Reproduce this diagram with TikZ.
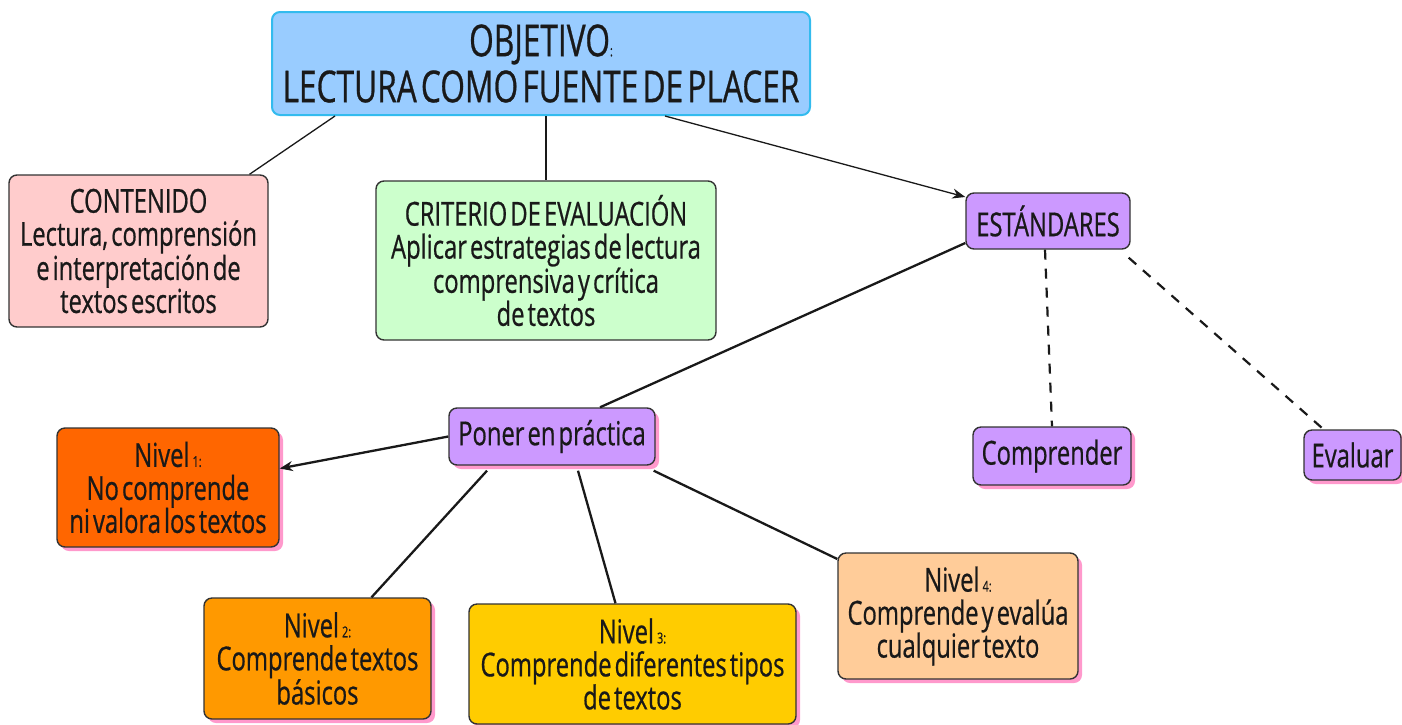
\documentclass[tikz,border=0pt]{standalone}
\usepackage{fontspec}
\setmainfont{Open Sans}[FakeStretch=0.72, WordSpace=0.5, FakeBold=0.6]
\usetikzlibrary{shadows,arrows.meta}
\definecolor{objfill}{HTML}{99CCFF}
\definecolor{objline}{HTML}{33BBEE}
\definecolor{contfill}{HTML}{FFCCCC}
\definecolor{critfill}{HTML}{CCFFCC}
\definecolor{purp}{HTML}{CC99FF}
\definecolor{n1fill}{HTML}{FF6600}
\definecolor{n2fill}{HTML}{FF9900}
\definecolor{n3fill}{HTML}{FFCC00}
\definecolor{n4fill}{HTML}{FFCC99}
\definecolor{shpink}{HTML}{FF99CC}
\definecolor{bord}{HTML}{333333}
\newcommand{\smlab}[1]{{\fontsize{15}{15}\selectfont #1}}
\tikzset{
  box/.style={draw=bord, line width=1.4pt, rounded corners=8pt, align=center, inner sep=0pt,
    font=\fontsize{33}{33}\selectfont, text=black!90},
  shbox/.style={box, drop shadow={shadow xshift=4pt, shadow yshift=-4pt, fill=shpink, opacity=1}},
  conn/.style={draw=black!90, line width=1.3pt},
  thick conn/.style={draw=black!90, line width=2.3pt},
  arr/.style={-{Stealth[length=13pt,width=10pt]}},
  dash conn/.style={draw=black!90, line width=2.2pt, dash pattern=on 10pt off 9pt}
}
\begin{document}
\begin{tikzpicture}[x=1pt,y=-1pt]
\useasboundingbox (0,0) rectangle (1402,724);
% nodes
\node[box, draw=objline, line width=2pt, fill=objfill, minimum width=538pt, minimum height=103pt,
  font=\fontsize{44}{46}\selectfont] (obj) at (541,63.5) {OBJETIVO\smlab{:}\\LECTURA COMO FUENTE DE PLACER};
\node[box, fill=contfill, minimum width=259pt, minimum height=152pt] (cont) at (138.5,251)
  {CONTENIDO\\Lectura, comprensión\\e interpretación de\\textos escritos};
\node[box, fill=critfill, minimum width=340pt, minimum height=159pt] (crit) at (546,260.5)
  {CRITERIO DE EVALUACIÓN\\Aplicar estrategias de lectura\\comprensiva y crítica\\de textos};
\node[box, fill=purp, minimum width=164pt, minimum height=56pt] (est) at (1048,221) {ESTÁNDARES};
\node[shbox, fill=purp, minimum width=206pt, minimum height=57pt] (pon) at (552,436.5) {Poner en práctica};
\node[shbox, fill=purp, minimum width=158pt, minimum height=58pt] (comp) at (1052,456) {Comprender};
\node[shbox, fill=purp, minimum width=97pt, minimum height=50pt] (eval) at (1352.5,455) {Evaluar};
\node[shbox, fill=n1fill, minimum width=222pt, minimum height=119pt] (n1) at (168,487.5)
  {Nivel \smlab{1:}\\No comprende\\ni valora los textos};
\node[shbox, fill=n2fill, minimum width=227pt, minimum height=121pt] (n2) at (317.5,658.5)
  {Nivel \smlab{2:}\\Comprende textos\\básicos};
\node[shbox, fill=n3fill, minimum width=327pt, minimum height=120pt] (n3) at (632.5,664)
  {Nivel \smlab{3:}\\Comprende diferentes tipos\\de textos};
\node[shbox, fill=n4fill, minimum width=240pt, minimum height=126pt] (n4) at (958,616)
  {Nivel \smlab{4:}\\Comprende y evalúa\\cualquier texto};
% connectors
\draw[conn] ([xshift=-206pt]obj.south) -- ([xshift=111pt]cont.north);
\draw[conn] (obj.south -| crit.north) -- (crit.north);
\draw[conn, arr] ([xshift=124pt]obj.south) -- ([yshift=24pt]est.west);
\draw[thick conn] ([yshift=-22pt]est.west) -- ([xshift=48pt]pon.north);
\draw[dash conn] ([xshift=-3pt]est.south) -- (comp.north);
\draw[dash conn] ([xshift=-2pt,yshift=-8pt]est.south east) -- ([xshift=-29pt]eval.north);
\draw[thick conn, arr] (pon.west) -- ([yshift=19pt]n1.east);
\draw[thick conn] ([xshift=-65pt,yshift=-5pt]pon.south) -- ([xshift=54pt]n2.north);
\draw[thick conn] ([xshift=26pt,yshift=-5pt]pon.south) -- ([xshift=-17pt]n3.north);
\draw[thick conn] ([xshift=-2pt,yshift=-5pt]pon.south east) -- ([yshift=57pt]n4.west);
\end{tikzpicture}
\end{document}
